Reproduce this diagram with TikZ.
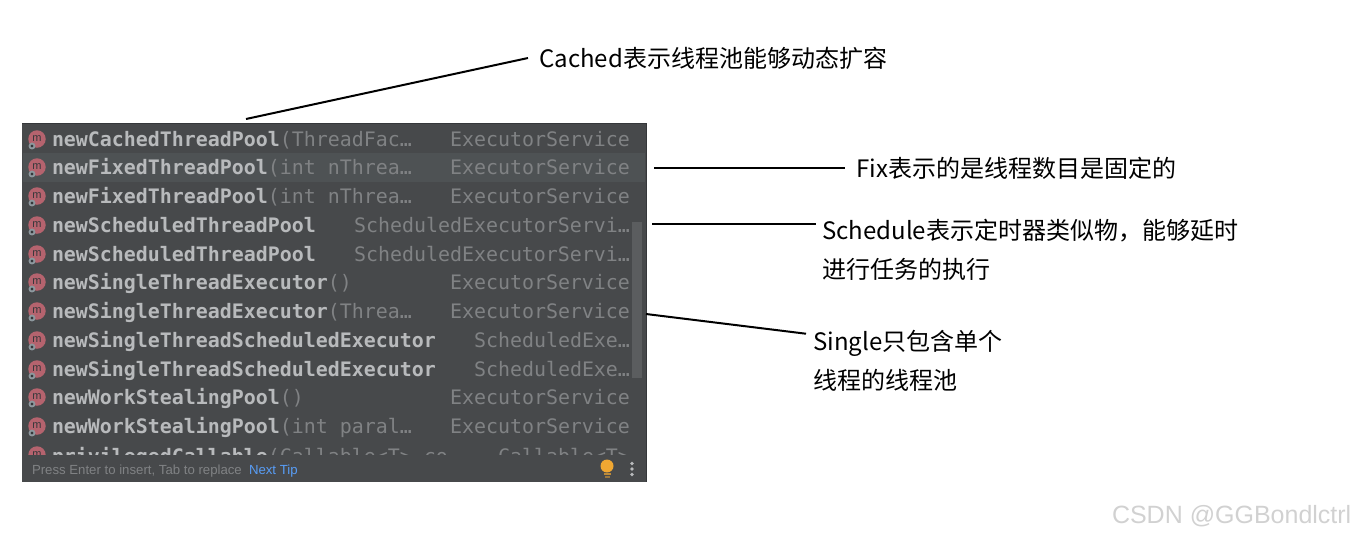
\documentclass[tikz,border=0pt]{standalone}
\usepackage{fontspec}
\usetikzlibrary{positioning,calc}
\newfontfamily\codefont{DejaVu Sans Mono}
\newfontfamily\notefont{Noto Sans CJK SC}
\newfontfamily\uifont{Liberation Sans}
\definecolor{popup_bg}{HTML}{47494b}
\definecolor{popup_sel}{HTML}{4e5254}
\definecolor{popup_edge}{HTML}{35373a}
\definecolor{popup_bar}{HTML}{5b5d5f}
\definecolor{code_name}{HTML}{b8babc}
\definecolor{code_grey}{HTML}{808284}
\definecolor{icon_red}{HTML}{b5636e}
\definecolor{icon_gear}{HTML}{8d989e}
\definecolor{tip_blue}{HTML}{589df6}
\definecolor{tip_bulb}{HTML}{f0a732}
\tikzstyle{line} = [draw, line width=2pt, black]
\tikzstyle{default} = [inner sep=0pt, outer sep=0pt]
\tikzstyle{popup} = [default, rectangle, fill=popup_bg, anchor=north west, minimum width=624.5pt, minimum height=359pt]
\tikzstyle{selrow} = [default, rectangle, fill=popup_sel, anchor=north west, minimum width=622pt, minimum height=29pt]
\tikzstyle{scrollbar} = [default, rectangle, fill=popup_bar, anchor=north west, minimum width=10pt, minimum height=156pt]
\tikzstyle{method} = [default, anchor=base west, text=code_name, font=\codefont\fontsize{19.93}{24}\selectfont]
\tikzstyle{rettype} = [default, anchor=base east, text=code_grey, font=\codefont\fontsize{19.93}{24}\selectfont]
\tikzstyle{icon} = [default, circle, fill=icon_red, minimum size=17.5pt, text=popup_edge, font=\uifont\fontsize{11}{12}\selectfont]
\tikzstyle{gear} = [default, circle, fill=popup_edge, draw=icon_gear, line width=1.8pt, minimum size=5pt]
\tikzstyle{note} = [anchor=west, inner ysep=4pt, inner xsep=11pt, align=left, text=black, font=\notefont\fontsize{24}{39}\selectfont]
\tikzstyle{tip} = [default, anchor=base west, font=\uifont\fontsize{13.2}{15}\selectfont]
\tikzstyle{dot} = [default, circle, fill=code_name, minimum size=3.6pt]
\newcommand{\pname}[1]{\textbf{#1}}
\newcommand{\pargs}[1]{\textcolor{code_grey}{#1}}
\begin{document}
\begin{tikzpicture}[x=1pt, y=-1pt]
   \useasboundingbox (0,0) rectangle (1355,539);

   % Popup
   \node at (22,123) [popup] (popup) {};
   \node at (23,153) [selrow] (selected) {};
   \node at (632,222) [scrollbar] (bar) {};
   \draw [popup_edge, line width=1pt] (popup.north west) -- (popup.north east) -- (popup.south east);

   % Rows
   \node at (52,146) [method] (row a) {\pname{newCachedThreadPool}\pargs{(ThreadFac…}};
   \node at (630,146) [rettype] (type a) {ExecutorService};
   \node at (52,174) [method] (row b) {\pname{newFixedThreadPool}\pargs{(int nThrea…}};
   \node at (630,174) [rettype] (type b) {ExecutorService};
   \node at (52,203) [method] (row c) {\pname{newFixedThreadPool}\pargs{(int nThrea…}};
   \node at (630,203) [rettype] (type c) {ExecutorService};
   \node at (52,232) [method] (row d) {\pname{newScheduledThreadPool}};
   \node at (630,232) [rettype] (type d) {ScheduledExecutorServi…};
   \node at (52,261) [method] (row e) {\pname{newScheduledThreadPool}};
   \node at (630,261) [rettype] (type e) {ScheduledExecutorServi…};
   \node at (52,289) [method] (row f) {\pname{newSingleThreadExecutor}\pargs{()}};
   \node at (630,289) [rettype] (type f) {ExecutorService};
   \node at (52,318) [method] (row g) {\pname{newSingleThreadExecutor}\pargs{(Threa…}};
   \node at (630,318) [rettype] (type g) {ExecutorService};
   \node at (52,347) [method] (row h) {\pname{newSingleThreadScheduledExecutor}};
   \node at (630,347) [rettype] (type h) {ScheduledExe…};
   \node at (52,376) [method] (row i) {\pname{newSingleThreadScheduledExecutor}};
   \node at (630,376) [rettype] (type i) {ScheduledExe…};
   \node at (52,404) [method] (row j) {\pname{newWorkStealingPool}\pargs{()}};
   \node at (630,404) [rettype] (type j) {ExecutorService};
   \node at (52,433) [method] (row k) {\pname{newWorkStealingPool}\pargs{(int paral…}};
   \node at (630,433) [rettype] (type k) {ExecutorService};

   % Icons
   \node at (37,139) [icon] (icon a) {m};
   \node at (37,167) [icon] (icon b) {m};
   \node at (37,196) [icon] (icon c) {m};
   \node at (37,225) [icon] (icon d) {m};
   \node at (37,254) [icon] (icon e) {m};
   \node at (37,282) [icon] (icon f) {m};
   \node at (37,311) [icon] (icon g) {m};
   \node at (37,340) [icon] (icon h) {m};
   \node at (37,369) [icon] (icon i) {m};
   \node at (37,397) [icon] (icon j) {m};
   \node at (37,426) [icon] (icon k) {m};
   \node at (32,146) [gear] (gear a) {};
   \node at (32,174) [gear] (gear b) {};
   \node at (32,203) [gear] (gear c) {};
   \node at (32,232) [gear] (gear d) {};
   \node at (32,261) [gear] (gear e) {};
   \node at (32,289) [gear] (gear f) {};
   \node at (32,318) [gear] (gear g) {};
   \node at (32,347) [gear] (gear h) {};
   \node at (32,376) [gear] (gear i) {};
   \node at (32,404) [gear] (gear j) {};
   \node at (32,433) [gear] (gear k) {};

   % Cut off last row
   \begin{scope}
      \clip (22,440) rectangle (646,454);
      \node at (37,455) [icon] (icon l) {m};
      \node at (52,463) [method] (row l) {\pname{privilegedCallable}\pargs{(Callable<T> co…}};
      \node at (630,463) [rettype] (type l) {Callable<T>};
   \end{scope}

   % Footer
   \node at (32,474) [tip, text=code_grey] (press) {Press Enter to insert, Tab to replace};
   \node at (249,474) [tip, text=tip_blue] (next) {Next Tip};
   \fill [tip_bulb] (607,466) circle (6.5);
   \fill [tip_bulb!70!popup_bg] (603.5,473) rectangle (610.5,475);
   \fill [tip_bulb!50!popup_bg] (604.5,476) rectangle (609.5,478);
   \node at (632,463.5) [dot] (dot a) {};
   \node at (632,469) [dot] (dot b) {};
   \node at (632,474.5) [dot] (dot c) {};

   % Notes
   \node at (528,58) [note] (cached note) {Cached表示线程池能够动态扩容};
   \node at (845,168) [note] (fixed note) {Fix表示的是线程数目是固定的};
   \node at (816,250) [note, inner xsep=6pt] (schedule note) {Schedule表示定时器类似物，能够延时\\进行任务的执行};
   \node at (806,361) [note, inner xsep=7pt] (single note) {Single只包含单个\\线程的线程池};
   \coordinate (cached end) at (246,119);
   \coordinate (fixed end) at (654,168);
   \coordinate (schedule end) at (652,224);
   \coordinate (single end) at (646,314);
   \path [line] (cached end) -- (cached note.west);
   \path [line] (fixed end) -- (fixed note.west);
   \path [line] (schedule end) -- (schedule end -| schedule note.west);
   \path [line] (single end) -- (single note.165);

   % Watermark
   \node at (1112,516) [default, anchor=west, text=black!18, font=\uifont\fontsize{25}{28}\selectfont] (mark) {CSDN @GGBondlctrl};
\end{tikzpicture}
\end{document}
